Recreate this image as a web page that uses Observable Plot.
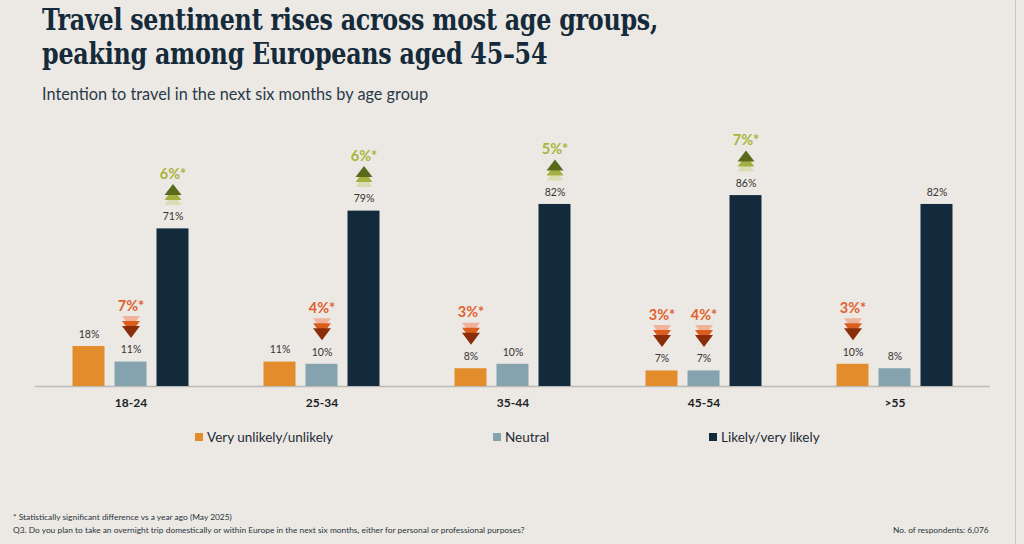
<!DOCTYPE html>
<html>
<head>
<meta charset="utf-8">
<script src="https://cdn.jsdelivr.net/npm/d3@7"></script>
<script src="https://cdn.jsdelivr.net/npm/@observablehq/plot@0.6"></script>
<style>
  html, body { margin: 0; padding: 0; background: #ece9e4; }
  #page { position: relative; width: 1024px; height: 544px; overflow: hidden; background: #ece9e4; font-family: Lato, "Open Sans", sans-serif; }
  #title { position: absolute; left: 42px; top: 3px; margin: 0; display: inline-block; white-space: nowrap; font-family: "DejaVu Serif Condensed", "Liberation Serif", serif; font-weight: 700; font-size: 30px; line-height: 33.5px; color: #152a3a; letter-spacing: -0.3px; transform-origin: 0 0; }
  #subtitle { position: absolute; left: 42px; top: 84px; font-size: 16.3px; color: #2a3a48; }
  #chart { position: absolute; left: 0; top: 110px; }
  .leg { position: absolute; top: 429px; font-size: 13.5px; color: #1e2b36; display: flex; align-items: center; white-space: nowrap; }
  .leg span.sw { display: inline-block; width: 8px; height: 8px; margin-right: 4px; }
  .foot { position: absolute; font-size: 8.4px; color: #2a3440; white-space: nowrap; }
  #edge { position: absolute; left: 1015px; top: 0; width: 1px; height: 544px; background: #c9c6c1; }
</style>
</head>
<body>
<div id="page">
  <h1 id="title">Travel sentiment rises across most age groups,<br>peaking among Europeans aged 45–54</h1>
  <div id="subtitle">Intention to travel in the next six months by age group</div>
  <div id="chart"></div>
  <div id="legend"></div>
  <div class="foot" style="left:13px; top:512px;">* Statistically significant difference vs a year ago (May 2025)</div>
  <div class="foot" style="left:13px; top:525px;">Q3. Do you plan to take an overnight trip domestically or within Europe in the next six months, either for personal or professional purposes?</div>
  <div class="foot" style="left:893px; top:525px;">No. of respondents: 6,076</div>
  <div id="edge"></div>
</div>
<script>
// ---- data ----
const groups = ["18-24", "25-34", "35-44", "45-54", ">55"];
const seriesNames = ["Very unlikely/unlikely", "Neutral", "Likely/very likely"];
const veryUnlikely = [18, 11, 8, 7, 10];
const neutral = [11, 10, 10, 7, 8];
const likely = [71, 79, 82, 86, 82];
// significant change vs a year ago (percentage points); null = none
const changeVeryUnlikely = [null, null, -3, -3, -3];
const changeNeutral = [-7, -4, null, -4, null];
const changeLikely = [6, 6, 5, 7, null];

const seriesColors = ["#e38c2b", "#84a3ae", "#132a3c"];
const seriesValues = [veryUnlikely, neutral, likely];
const seriesChanges = [changeVeryUnlikely, changeNeutral, changeLikely];
const seriesDx = [-42, 0, 42];

const rowsBySeries = seriesNames.map((s, si) =>
  groups.map((g, gi) => ({group: g, series: s, value: seriesValues[si][gi], change: seriesChanges[si][gi]}))
);

// custom triangle symbols
const upTri = {draw(ctx) { ctx.moveTo(0, -5.5); ctx.lineTo(8.5, 5.5); ctx.lineTo(-8.5, 5.5); ctx.closePath(); }};
const downTri = {draw(ctx) { ctx.moveTo(-9, -6); ctx.lineTo(9, -6); ctx.lineTo(0, 6); ctx.closePath(); }};

const upColors = ["#d9dcb4", "#a3b040", "#5a6a1c"];     // light, mid, dark
const downColors = ["#efb39b", "#dc5e1f", "#8a2d0b"];
const upDy = [-29.5, -34.5, -39.5];
const downDy = [-40, -35, -30];

const marks = [Plot.ruleY([0], {stroke: "#bdbab5", strokeWidth: 1.5})];

rowsBySeries.forEach((rows, si) => {
  const dx = seriesDx[si];
  marks.push(Plot.barY(rows, {x: "group", y: "value", fill: seriesColors[si], insetLeft: 79.5, insetRight: 79.5, dx}));
  marks.push(Plot.text(rows, {x: "group", y: "value", text: d => d.value + "%", dx, dy: -12, fontSize: 10.5, fill: "#333333"}));
  const ups = rows.filter(d => d.change != null && d.change > 0);
  const downs = rows.filter(d => d.change != null && d.change < 0);
  upColors.forEach((c, i) => marks.push(Plot.dot(ups, {x: "group", y: "value", symbol: upTri, fill: c, stroke: "none", dx, dy: upDy[i]})));
  downColors.forEach((c, i) => marks.push(Plot.dot(downs, {x: "group", y: "value", symbol: downTri, fill: c, stroke: "none", dx, dy: downDy[i]})));
  marks.push(Plot.text(ups, {x: "group", y: "value", text: d => Math.abs(d.change) + "%*", dx, dy: -55, fontSize: 14.5, fontWeight: "bold", fill: "#a7b43a"}));
  marks.push(Plot.text(downs, {x: "group", y: "value", text: d => Math.abs(d.change) + "%*", dx, dy: -56, fontSize: 14.5, fontWeight: "bold", fill: "#e0622c"}));
});

// category labels under the baseline
marks.push(Plot.text(groups, {x: d => d, frameAnchor: "bottom", dy: 20, fontSize: 12, fontWeight: "bold", fill: "#1b1f24"}));

const chart = Plot.plot({
  width: 1024,
  height: 310,
  marginLeft: 35,
  marginRight: 34,
  marginTop: 54,
  marginBottom: 34,
  style: {background: "transparent", fontFamily: "Lato, 'Open Sans', sans-serif"},
  x: {domain: groups, padding: 0, axis: null},
  y: {domain: [0, 100], axis: null},
  marks
});
document.getElementById("chart").appendChild(chart);

// fit title width to the reference layout
const title = document.getElementById("title");
const tw = title.getBoundingClientRect().width;
title.style.transform = `scaleX(${616 / tw})`;

// legend
const legend = document.getElementById("legend");
const legendLeft = [195, 493, 709];
seriesNames.forEach((s, i) => {
  const item = document.createElement("div");
  item.className = "leg";
  item.style.left = legendLeft[i] + "px";
  item.innerHTML = `<span class="sw" style="background:${seriesColors[i]}"></span>${s}`;
  legend.appendChild(item);
});
</script>
</body>
</html>
